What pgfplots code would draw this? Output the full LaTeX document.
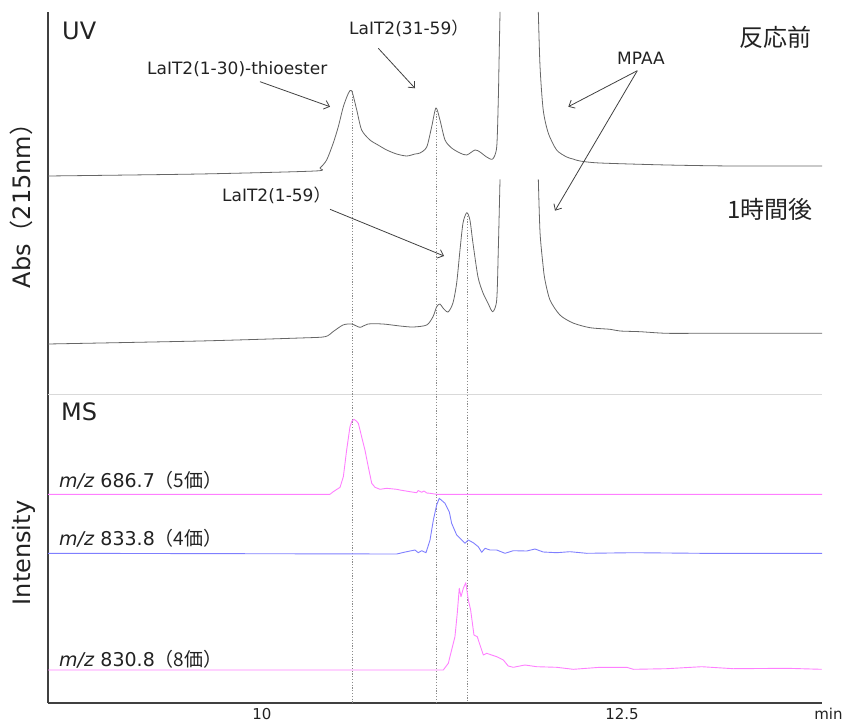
\documentclass[border=0pt]{standalone}
\usepackage{pgfplots}
\pgfplotsset{compat=1.18}
\usepackage{fontspec}
\setmainfont{DejaVu Sans}
\newfontfamily\cjk{Noto Sans CJK JP}
\usetikzlibrary{arrows.meta}
\definecolor{uvgray}{HTML}{666666}
\definecolor{mspink}{HTML}{FF7FFF}
\definecolor{msblue}{HTML}{7F7FFF}
\definecolor{dotgray}{HTML}{8C8C8C}
\definecolor{sepgray}{HTML}{D9D9D9}
\definecolor{axgray}{HTML}{404040}
\definecolor{txt}{HTML}{222222}
\begin{document}
\begin{tikzpicture}
\useasboundingbox (0,0) rectangle (845pt,724pt);
\begin{axis}[
  at={(48pt,21pt)}, anchor=south west,
  x=144pt, y=1pt,
  xmin=8.514, xmax=13.889, ymin=21, ymax=712,
  axis x line=bottom, axis y line=left,
  axis line style={-, draw=axgray, line width=1.6pt},
  xtick={10,12.5}, xticklabels={10,12.5},
  xtick style={draw=none},
  ytick=\empty,
  xticklabel style={font=\fontsize{15}{18}\selectfont, text=txt},
  clip=false,
  every axis plot/.append style={line join=round},
]
% separator between UV and MS panels
\addplot[sepgray, line width=1pt] coordinates {(8.514,330) (13.889,330)};
% retention-time guide lines
\addplot[dotgray, line width=0.6pt, dash pattern=on 1.2pt off 1.6pt] coordinates {(10.625,633) (10.625,21)};
\addplot[dotgray, line width=0.6pt, dash pattern=on 1.2pt off 1.6pt] coordinates {(11.208,616) (11.208,21)};
\addplot[dotgray, line width=0.6pt, dash pattern=on 1.2pt off 1.6pt] coordinates {(11.424,511) (11.424,21)};
% UV before reaction
\addplot[uvgray, line width=0.8pt, smooth, tension=0.45] coordinates {
(8.514,548) (9.569,550) (10.368,553) (10.403,556) (10.449,564) (10.495,581) (10.530,597.3)
(10.565,617.3) (10.600,630.7) (10.623,633.3) (10.658,614) (10.692,594) (10.75,584) (10.806,579)
(10.866,574) (10.935,570) (11.005,568) (11.0625,570) (11.097,571) (11.144,577) (11.178,597)
(11.208,616) (11.236,604) (11.271,584) (11.317,576) (11.375,571) (11.422,569) (11.479,574)
(11.514,572) (11.560,567) (11.602,565) (11.630,577) (11.641,624) (11.6455,657) (11.653,712)};
\addplot[uvgray, line width=0.8pt, smooth, tension=0.45] coordinates {
(11.919,712) (11.931,657) (11.953,614) (11.988,591) (12.046,574) (12.116,567) (12.160,565)
(12.208,563) (12.347,561) (12.8125,559) (13.273,558) (13.889,558)};
% UV after 1 h
\addplot[uvgray, line width=0.8pt, smooth, tension=0.45] coordinates {
(8.514,380) (9.569,383) (10.264,386) (10.4375,387.3) (10.493,392.3) (10.5625,399) (10.623,400)
(10.681,396.7) (10.736,400) (10.840,400) (10.958,398) (11.049,397) (11.144,399) (11.1875,407.3)
(11.213,417.3) (11.236,420) (11.257,416) (11.292,412) (11.326,421) (11.352,441) (11.375,474)
(11.396,501) (11.422,511.3) (11.444,504) (11.465,481) (11.5,447) (11.535,431) (11.569,421)
(11.602,412.3) (11.630,424) (11.641,474) (11.653,544.7)};
\addplot[uvgray, line width=0.8pt, smooth, tension=0.45] coordinates {
(11.919,544.7) (11.931,491) (11.953,457) (11.965,444) (12.0,424) (12.069,409) (12.160,401)
(12.278,396.3) (12.417,394.7) (12.486,393) (12.625,392.3) (12.810,390.7) (13.088,390.7) (13.889,390.7)};
% MS m/z 686.7
\addplot[mspink, line width=0.9pt] coordinates {
(8.514,229.7) (10.472,229.7) (10.495,232.3) (10.542,236.7) (10.565,247.3) (10.588,274) (10.611,297.3)
(10.625,303) (10.639,304.7) (10.655,303) (10.669,300.7) (10.692,287.3) (10.715,274) (10.738,257.3) (10.762,240.7) (10.785,236.7)
(10.819,234.7) (10.866,235.7) (10.935,234.7) (10.958,234) (11.028,232.3) (11.074,231.3) (11.085,233.5)
(11.109,231.7) (11.125,233) (11.144,231) (11.167,230.7) (11.213,229.7) (13.889,229.7)};
% MS m/z 833.8
\addplot[msblue, line width=0.9pt] coordinates {
(8.514,170.7) (10.935,170) (11.005,172.3) (11.0625,174) (11.085,171.3) (11.109,173.3) (11.139,171.3)
(11.167,184) (11.190,204) (11.213,219) (11.231,225.7) (11.271,220.7) (11.301,212) (11.317,200.7)
(11.352,189) (11.387,184) (11.410,180.7) (11.433,184) (11.467,181.3) (11.502,177.3) (11.526,171.7)
(11.549,175.7) (11.583,174) (11.630,174) (11.6875,170.7) (11.745,173.3) (11.838,173) (11.896,175)
(11.953,172) (12.046,171.3) (12.139,172.3) (12.255,170.7) (12.579,171.3) (13.042,170.7) (13.505,170.7)
(13.889,170.7)};
% MS m/z 830.8
\addplot[mspink, line width=0.9pt] coordinates {
(8.514,54) (11.259,54) (11.294,60.7) (11.317,74) (11.340,87.3) (11.356,110.7) (11.370,135.7)
(11.382,127.3) (11.398,135.7) (11.415,141.3) (11.433,124) (11.449,114) (11.472,89) (11.495,87.3)
(11.514,79) (11.537,69) (11.560,70.7) (11.630,67.3) (11.676,64) (11.710,58) (11.745,56.7)
(11.826,59) (11.908,57.3) (12.046,56.7) (12.162,54.7) (12.347,56.7) (12.533,56.7) (12.579,54.7)
(12.810,55.3) (13.053,57.3) (13.273,55.3) (13.644,55.7) (13.887,54.7)};
\end{axis}
% axis titles
\node[rotate=90, anchor=base, inner sep=0, text=txt, font=\fontsize{24}{28}\selectfont] at (30pt,524pt) {Abs{\cjk （}215nm{\cjk ）}};
\node[rotate=90, anchor=base, inner sep=0, text=txt, font=\fontsize{24}{28}\selectfont] at (30pt,171pt) {Intensity};
\node[anchor=base, text=txt, font=\fontsize{15}{18}\selectfont] at (828.5pt,5pt) {min};
% panel labels
\node[anchor=base west, inner sep=0, text=txt, font=\fontsize{24}{28}\selectfont] at (62pt,684pt) {UV};
\node[anchor=base west, inner sep=0, text=txt, font=\fontsize{24}{28}\selectfont] at (61pt,304pt) {MS};
\node[anchor=center, inner sep=0, text=txt, font=\fontsize{24}{28}\selectfont\cjk] at (775.5pt,686.5pt) {反応前};
\node[anchor=center, inner sep=0, text=txt, font=\fontsize{24}{28}\selectfont\cjk] at (770pt,515pt) {1時間後};
% peak labels
\node[anchor=base west, inner sep=0, text=txt, font=\fontsize{17}{20}\selectfont] at (147pt,649pt) {LaIT2(1-30)-thioester};
\node[anchor=base west, inner sep=0, text=txt, font=\fontsize{17}{20}\selectfont] at (349pt,689pt) {LaIT2(31-59{\cjk ）}};
\node[anchor=base west, inner sep=0, text=txt, font=\fontsize{17}{20}\selectfont] at (222pt,522pt) {LaIT2(1-59{\cjk ）}};
\node[anchor=center, inner sep=0, text=txt, font=\fontsize{17}{20}\selectfont] at (641pt,666pt) {MPAA};
% arrows
\begin{scope}[draw=axgray, line width=0.8pt, -{Straight Barb[length=5pt,width=9pt]}]
\draw (260pt,642.3pt) -- (330pt,617.3pt);
\draw (378.3pt,675.7pt) -- (415pt,635.7pt);
\draw (637.3pt,653.3pt) -- (568.3pt,617.3pt);
\draw (637.3pt,653.3pt) -- (555pt,513.3pt);
\draw (330pt,514.7pt) -- (444pt,468pt);
\end{scope}
% MS trace labels
\node[anchor=base west, inner sep=0, text=txt, font=\fontsize{19}{22}\selectfont] at (59pt,236.7pt) {\textit{m/z} 686.7{\cjk （5価）}};
\node[anchor=base west, inner sep=0, text=txt, font=\fontsize{19}{22}\selectfont] at (59pt,179pt) {\textit{m/z} 833.8{\cjk （4価）}};
\node[anchor=base west, inner sep=0, text=txt, font=\fontsize{19}{22}\selectfont] at (59pt,58pt) {\textit{m/z} 830.8{\cjk （8価）}};
\end{tikzpicture}
\end{document}
